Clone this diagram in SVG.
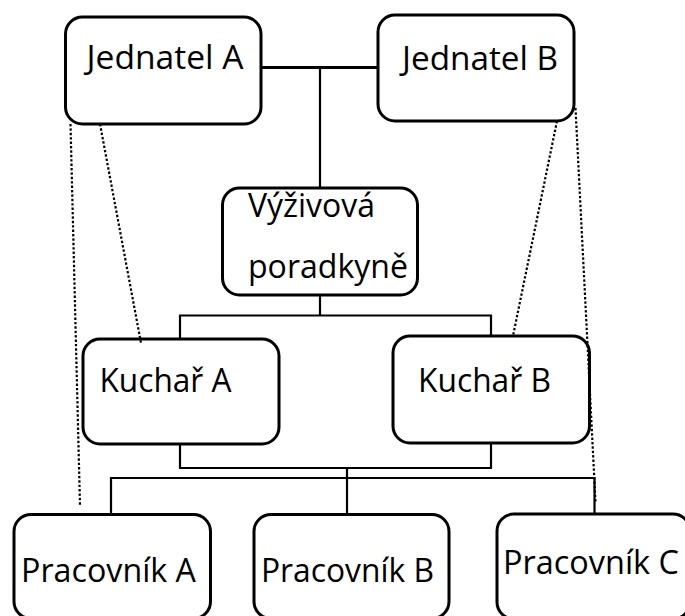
<svg xmlns="http://www.w3.org/2000/svg" width="685" height="616" viewBox="0 0 685 616">
<style>
.box{fill:#fff;stroke:#000;stroke-width:3}
.t{font-family:"Open Sans","Noto Sans","Liberation Sans",sans-serif;font-size:32px;fill:#000}
.c{fill:none;stroke:#000;stroke-width:2.2}
.d{fill:none;stroke:#000;stroke-width:2.2;stroke-dasharray:2.4 2}
</style>
<rect width="685" height="616" fill="#fff"/>
<g id="jednatelA"><rect class="box" x="65.5" y="17" width="195.5" height="107" rx="17"/><text class="t" x="86.5" y="68.5" textLength="157" lengthAdjust="spacingAndGlyphs">Jednatel A</text></g>
<g id="jednatelB"><rect class="box" x="378" y="15" width="196" height="106" rx="17"/><text class="t" x="402" y="70" textLength="156" lengthAdjust="spacingAndGlyphs">Jednatel B</text></g>
<g id="vyzivova"><rect class="box" x="222.5" y="188" width="195" height="107" rx="17"/><text class="t" x="248" y="217" textLength="127" lengthAdjust="spacingAndGlyphs">Výživová</text><text class="t" x="248" y="278" textLength="160" lengthAdjust="spacingAndGlyphs">poradkyně</text></g>
<g id="kucharA"><rect class="box" x="83" y="339" width="196" height="105" rx="17"/><text class="t" x="99.5" y="392" textLength="132" lengthAdjust="spacingAndGlyphs">Kuchař A</text></g>
<g id="kucharB"><rect class="box" x="393" y="336" width="196.5" height="107" rx="17"/><text class="t" x="418" y="392" textLength="133" lengthAdjust="spacingAndGlyphs">Kuchař B</text></g>
<g id="pracovnikA"><rect class="box" x="14" y="514.5" width="196.5" height="104" rx="17"/><text class="t" x="21" y="581.5" textLength="175" lengthAdjust="spacingAndGlyphs">Pracovník A</text></g>
<g id="pracovnikB"><rect class="box" x="254" y="514.5" width="195" height="104" rx="17"/><text class="t" x="261" y="581.5" textLength="173" lengthAdjust="spacingAndGlyphs">Pracovník B</text></g>
<g id="pracovnikC"><rect class="box" x="497" y="514" width="193" height="105" rx="17"/><text class="t" x="503" y="574" textLength="176" lengthAdjust="spacingAndGlyphs">Pracovník C</text></g>
<g id="connectors">
<line x1="261" y1="67.5" x2="377" y2="67.5" stroke="#000" stroke-width="3.2"/>
<line class="c" x1="320" y1="67.5" x2="320" y2="188"/>
<path class="c" d="M320 295V315.5M180 339V315.5H491V336"/>
<path class="c" d="M180 444V468H491V443"/>
<path class="c" d="M347 468V514.5M111 514.5V478H594.5V514"/>
<path class="d" d="M70.5 124L80 506"/>
<path class="d" d="M100 124L141 343"/>
<path class="d" d="M557 121L513 336"/>
<path class="d" d="M575.5 108L595.5 502"/>
</g>
</svg>
